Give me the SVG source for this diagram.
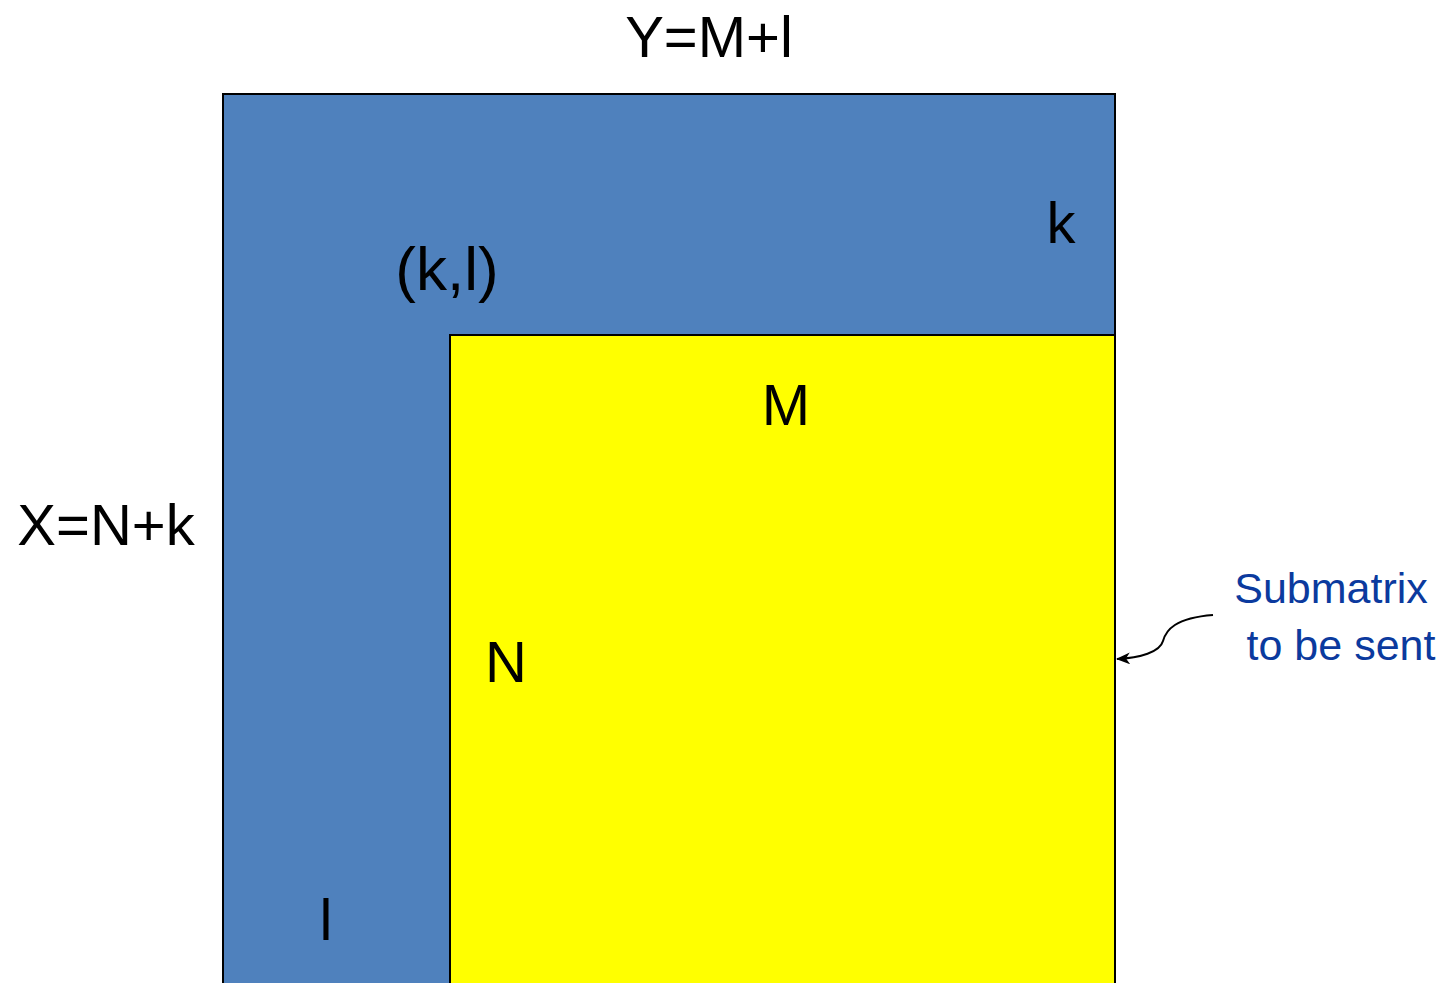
<svg xmlns="http://www.w3.org/2000/svg" width="1454" height="983" viewBox="0 0 1454 983">
<style>
.lbl{font-family:"Liberation Sans",Arial,sans-serif;font-size:58px;fill:#000}
.note{font-family:"Liberation Sans",Arial,sans-serif;font-size:43px;fill:#0B3A9E}
</style>
<defs>
<marker id="ah" markerWidth="14" markerHeight="12" refX="13" refY="6" orient="auto" markerUnits="userSpaceOnUse" viewBox="0 0 14 12">
<path d="M0,0 L14,6 L0,12 L4,6 Z" fill="#000"/>
</marker>
</defs>
<rect width="1454" height="983" fill="#fff"/>
<g id="full-matrix">
<rect x="223" y="94" width="892" height="900" fill="#4F81BD" stroke="#000" stroke-width="2"/>
</g>
<g id="submatrix">
<rect x="450" y="335" width="665" height="660" fill="#FFFF00" stroke="#000" stroke-width="2"/>
</g>
<g id="labels">
<text class="lbl" x="709" y="57" text-anchor="middle">Y=M+l</text>
<text class="lbl" x="106" y="545" text-anchor="middle">X=N+k</text>
<text class="lbl" x="1061" y="243" text-anchor="middle">k</text>
<text class="lbl" x="447" y="290" text-anchor="middle" style="font-size:62px">(k,l)</text>
<text class="lbl" x="786" y="425" text-anchor="middle">M</text>
<text class="lbl" x="506" y="682" text-anchor="middle">N</text>
<text class="lbl" x="326" y="940" text-anchor="middle">l</text>
</g>
<g id="note">
<text class="note" x="1331" y="603" text-anchor="middle">Submatrix</text>
<text class="note" x="1341" y="660" text-anchor="middle">to be sent</text>
</g>
<g id="connectors">
<path d="M1213,615 C1175,618 1166,630 1163,641 C1160,652 1140,658 1117,659" fill="none" stroke="#000" stroke-width="2" marker-end="url(#ah)"/>
</g>
</svg>
